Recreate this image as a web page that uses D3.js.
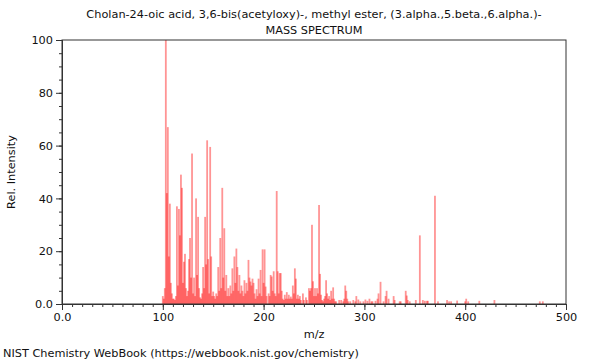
<!DOCTYPE html>
<html>
<head>
<meta charset="utf-8">
<script src="https://cdn.jsdelivr.net/npm/d3@7"></script>
<style>
  body { margin: 0; background: #fff; }
  svg text { font-family: "DejaVu Sans", sans-serif; fill: #111; }
</style>
</head>
<body>
<div id="chart"></div>
<script>
const titleLines = [
  "Cholan-24-oic acid, 3,6-bis(acetyloxy)-, methyl ester, (3.alpha.,5.beta.,6.alpha.)-",
  "MASS SPECTRUM"
];
const xTicks = [0, 100, 200, 300, 400, 500];
const xTickLabels = ["0.0", "100", "200", "300", "400", "500"];
const yTicks = [0, 20, 40, 60, 80, 100];
const yTickLabels = ["0.0", "20", "40", "60", "80", "100"];

// peaks: m/z and relative intensity
const mz = [
  100, 101, 102, 103, 104, 105, 106, 107, 108, 109, 110, 111, 112, 113, 114, 115, 116, 117, 118, 119,
  120, 121, 122, 123, 124, 125, 126, 127, 128, 129, 130, 131, 132, 133, 134, 135, 136, 137, 138, 139,
  140, 141, 142, 143, 144, 145, 146, 147, 148, 149, 150, 151, 152, 153, 154, 155, 156, 157, 158, 159,
  160, 161, 162, 163, 164, 165, 166, 167, 168, 169, 170, 171, 172, 173, 174, 175, 176, 177, 178, 179,
  180, 181, 182, 183, 184, 185, 186, 187, 188, 189, 190, 191, 192, 193, 194, 195, 196, 197, 198, 199,
  200, 201, 202, 203, 205, 206, 207, 208, 209, 210, 211, 212, 213, 214, 215, 216, 217, 218, 219, 220,
  221, 222, 223, 224, 225, 226, 227, 228, 229, 230, 231, 232, 233, 234, 235, 236, 237, 239, 240, 242,
  243, 245, 246, 247, 248, 249, 250, 251, 252, 253, 254, 255, 256, 257, 258, 259, 260, 261, 262, 263,
  264, 265, 266, 267, 268, 269, 270, 271, 272, 275, 277, 279, 280, 281, 282, 283, 284, 286, 289, 291,
  292, 294, 296, 299, 301, 303, 305, 307, 308, 311, 313, 314, 316, 319, 321, 322, 324, 329, 330, 335,
  336, 341, 342, 343, 345, 351, 355, 358, 360, 362, 363, 370, 373, 382, 384, 386, 392, 400, 401, 403,
  414, 429, 474, 477
];
const intensity = [
  3, 2, 6, 100, 42, 67, 18, 38, 8, 4, 2, 2, 1.5, 3, 37, 7, 36, 26, 49, 44,
  8, 16, 19, 6, 3, 5, 17, 25, 10, 57, 4, 10, 3, 40, 11, 33, 6, 2.5, 2, 4,
  14, 6, 33, 15, 62, 17, 4, 59.5, 18, 3, 4.7, 3, 2, 4, 3, 14, 5, 25, 6, 44,
  10, 28.7, 5, 11, 3, 6, 3, 7, 4, 13.5, 5, 18, 8, 21, 14, 5, 11, 4, 7, 5,
  3, 9, 4, 8, 5, 16.7, 10, 8.5, 7, 9.6, 8, 4, 2, 5.6, 3, 9.6, 4, 12.9, 3, 20.7,
  8, 20.7, 6.6, 3, 4, 3, 11, 10.4, 5, 12.4, 4, 3, 42.8, 12.4, 4, 11.7, 11.7, 5, 2, 1.5,
  3.5, 2, 4.5, 2, 3.5, 2, 2.8, 2, 7, 4, 13.5, 9.6, 2, 3.5, 2, 3, 1.5, 4, 1.5, 2.5,
  1.5, 6, 5, 6, 30, 8.6, 3, 6, 3, 6, 4, 37.5, 11.4, 3.5, 1.5, 1, 2, 3, 9, 4,
  2, 3, 1.5, 5, 2, 6.3, 2, 1, 1, 1.5, 1.5, 1, 2, 7, 5, 2, 1, 1, 1.5, 1,
  3, 1.7, 1, 1, 1.7, 1.2, 2, 1, 1, 1.2, 2, 4, 8.4, 1, 3, 5, 2, 3, 1.5, 1,
  1, 5, 3.2, 1.5, 1, 1.5, 26, 1.5, 1.2, 1.2, 1.2, 41, 1, 1.5, 1, 1, 1.3, 1, 2, 1,
  1.2, 1.5, 1, 1
];

const width = 600, height = 360;
const margin = { top: 40, right: 34, bottom: 56, left: 62 };
const plotW = width - margin.left - margin.right;
const plotH = height - margin.top - margin.bottom;
const fontSize = 11.3;

const svg = d3.select("#chart").append("svg")
  .attr("width", width)
  .attr("height", height);

const g = svg.append("g")
  .attr("transform", `translate(${margin.left},${margin.top})`);

const x = d3.scaleLinear().domain([0, 500]).range([0, plotW]);
const y = d3.scaleLinear().domain([0, 100]).range([plotH, 0]);

// peaks
const peaks = mz.map((m, i) => ({ mz: m, value: intensity[i] }));
g.selectAll("rect.peak")
  .data(peaks)
  .enter()
  .append("rect")
  .attr("class", "peak")
  .attr("x", d => x(d.mz) - 0.9)
  .attr("width", 1.8)
  .attr("y", d => y(d.value))
  .attr("height", d => plotH - y(d.value))
  .attr("fill", "#ff0000")
  .attr("fill-opacity", 0.42);

// frame
g.append("rect")
  .attr("x", 0).attr("y", 0)
  .attr("width", plotW).attr("height", plotH)
  .attr("fill", "none")
  .attr("stroke", "#333")
  .attr("stroke-width", 1);

// minor ticks
const xMinor = d3.axisBottom(x).tickValues(d3.range(0, 501, 10)).tickSize(3).tickFormat("");
const yMinor = d3.axisLeft(y).tickValues(d3.range(0, 101, 5)).tickSize(3).tickFormat("");
g.append("g").attr("transform", `translate(0,${plotH})`).call(xMinor);
g.append("g").call(yMinor);

// major ticks + labels
const xAxis = d3.axisBottom(x).tickValues(xTicks).tickSize(6).tickPadding(3)
  .tickFormat((d, i) => xTickLabels[i]);
const yAxis = d3.axisLeft(y).tickValues(yTicks).tickSize(6).tickPadding(3)
  .tickFormat((d, i) => yTickLabels[i]);
g.append("g").attr("class", "axis").attr("transform", `translate(0,${plotH})`).call(xAxis);
g.append("g").attr("class", "axis").call(yAxis);

g.selectAll(".domain").attr("stroke", "#333");
g.selectAll(".tick line").attr("stroke", "#333");
g.selectAll(".tick text").attr("font-size", fontSize).attr("font-family", "DejaVu Sans");

// titles
svg.selectAll("text.title")
  .data(titleLines)
  .enter()
  .append("text")
  .attr("class", "title")
  .attr("x", margin.left + plotW / 2)
  .attr("y", (d, i) => 18 + i * 16)
  .attr("text-anchor", "middle")
  .attr("font-size", fontSize)
  .text(d => d);

svg.append("text")
  .attr("x", margin.left + plotW / 2)
  .attr("y", 338)
  .attr("text-anchor", "middle")
  .attr("font-size", fontSize)
  .text("m/z");

svg.append("text")
  .attr("transform", `translate(15,${margin.top + plotH / 2}) rotate(-90)`)
  .attr("text-anchor", "middle")
  .attr("font-size", fontSize)
  .text("Rel. Intensity");

svg.append("text")
  .attr("x", 3)
  .attr("y", 357)
  .attr("font-size", fontSize)
  .text("NIST Chemistry WebBook (https://webbook.nist.gov/chemistry)");
</script>
</body>
</html>
